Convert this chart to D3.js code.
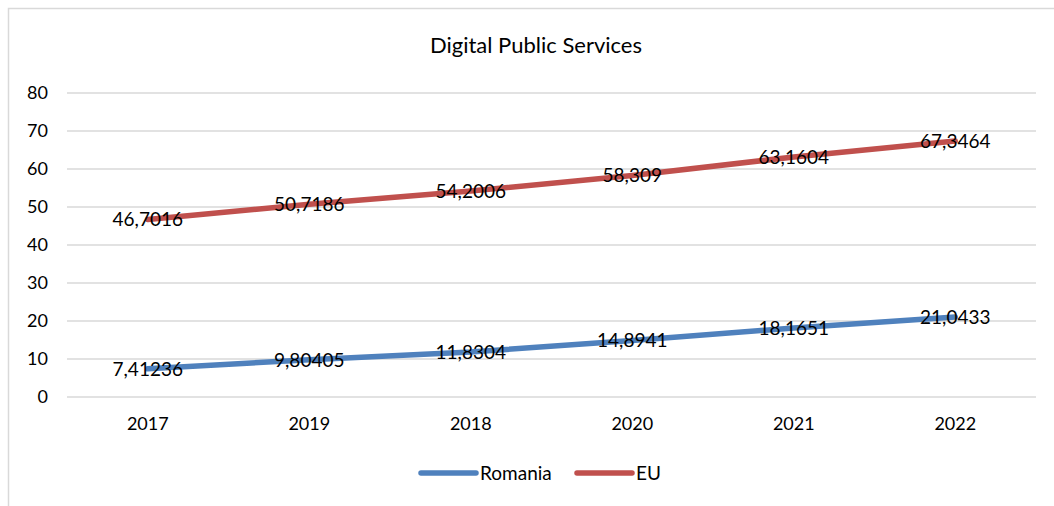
<!DOCTYPE html>
<html>
<head>
<meta charset="utf-8">
<script src="https://cdn.jsdelivr.net/npm/d3@7"></script>
<style>
    body { margin: 0; background: #fff; }
    text { font-family: Lato, "Open Sans", sans-serif; fill: #000; }
</style>
</head>
<body>
<script>
//chart data
var years = ["2017", "2019", "2018", "2020", "2021", "2022"];
var romania = [7.41236, 9.80405, 11.8304, 14.8941, 18.1651, 21.0433];
var eu = [46.7016, 50.7186, 54.2006, 58.309, 63.1604, 67.3464];
var yTicks = [0, 10, 20, 30, 40, 50, 60, 70, 80];
var seriesNames = ["Romania", "EU"];
var seriesColors = ["#4F81BD", "#C0504D"];

(function(){
    var width = 1054, height = 506;

    var svg = d3.select("body")
        .append("svg")
        .attr("width", width)
        .attr("height", height);

    //outer chart frame (right and bottom fall outside the picture)
    svg.append("rect")
        .attr("x", 8.5)
        .attr("y", 8.5)
        .attr("width", width + 20)
        .attr("height", height + 20)
        .attr("fill", "none")
        .attr("stroke", "#D9D9D9")
        .attr("stroke-width", 1.5);

    //title
    svg.append("text")
        .attr("x", 536)
        .attr("y", 53)
        .attr("text-anchor", "middle")
        .style("font-size", "22px")
        .text("Digital Public Services");

    var xScale = d3.scaleBand()
        .domain(years)
        .range([67, 1036]);

    var yScale = d3.scaleLinear()
        .domain([0, 80])
        .range([397, 93]);

    //gridlines
    svg.selectAll(".grid")
        .data(yTicks)
        .enter()
        .append("line")
        .attr("class", "grid")
        .attr("x1", 67)
        .attr("x2", 1036)
        .attr("y1", function(d){ return yScale(d); })
        .attr("y2", function(d){ return yScale(d); })
        .attr("stroke", "#D9D9D9")
        .attr("stroke-width", 1.5);

    //y axis labels
    var yAxis = d3.axisLeft(yScale)
        .tickValues(yTicks)
        .tickSize(0)
        .tickPadding(0);

    var yAxisG = svg.append("g")
        .attr("transform", "translate(48,0)")
        .call(yAxis);
    yAxisG.select(".domain").remove();
    yAxisG.selectAll("text")
        .style("font-size", "18px")
        .style("font-family", "Lato, sans-serif")
        .attr("fill", "#000");

    //x axis labels
    var xAxis = d3.axisBottom(xScale)
        .tickSize(0)
        .tickPadding(0);

    var xAxisG = svg.append("g")
        .attr("transform", "translate(0,417)")
        .call(xAxis);
    xAxisG.select(".domain").remove();
    xAxisG.selectAll("text")
        .style("font-size", "18px")
        .style("font-family", "Lato, sans-serif")
        .attr("fill", "#000");

    var line = d3.line()
        .x(function(d, i){ return xScale(years[i]) + xScale.bandwidth() / 2; })
        .y(function(d){ return yScale(d); });

    var allSeries = [romania, eu];

    //series lines
    allSeries.forEach(function(values, s){
        svg.append("path")
            .datum(values)
            .attr("d", line)
            .attr("fill", "none")
            .attr("stroke", seriesColors[s])
            .attr("stroke-width", 5.5)
            .attr("stroke-linecap", "round")
            .attr("stroke-linejoin", "round");
    });

    //data labels
    allSeries.forEach(function(values){
        svg.selectAll(null)
            .data(values)
            .enter()
            .append("text")
            .attr("x", function(d, i){ return xScale(years[i]) + xScale.bandwidth() / 2; })
            .attr("y", function(d){ return yScale(d); })
            .attr("dy", "0.36em")
            .attr("text-anchor", "middle")
            .style("font-size", "19px")
            .text(function(d){ return String(d).replace(".", ","); });
    });

    //legend
    var legendX = [421, 577];
    seriesNames.forEach(function(name, s){
        svg.append("line")
            .attr("x1", legendX[s])
            .attr("x2", legendX[s] + 55)
            .attr("y1", 473)
            .attr("y2", 473)
            .attr("stroke", seriesColors[s])
            .attr("stroke-width", 5.5)
            .attr("stroke-linecap", "round");
        svg.append("text")
            .attr("x", legendX[s] + 59)
            .attr("y", 473)
            .attr("dy", "0.36em")
            .style("font-size", "19px")
            .text(name);
    });
})();
</script>
</body>
</html>
